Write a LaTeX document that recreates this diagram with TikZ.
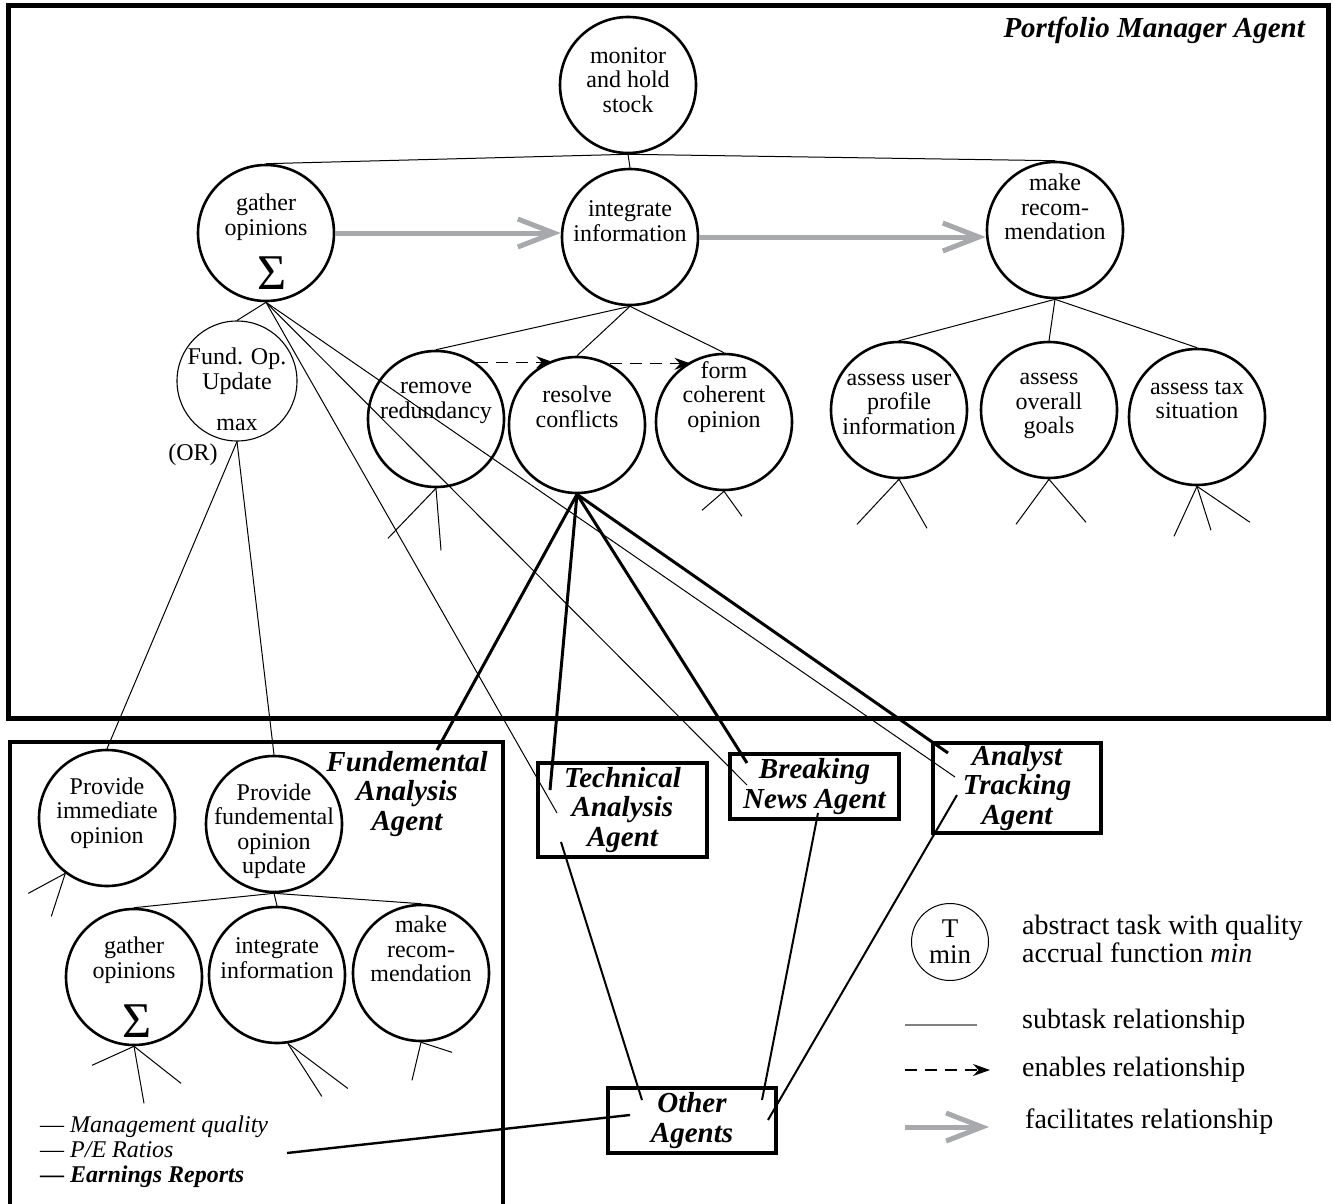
\documentclass[tikz,border=0pt]{standalone}
\usepackage{fontspec}
\setmainfont{Liberation Serif}
\usetikzlibrary{arrows.meta}
\definecolor{fgray}{RGB}{167,169,172}
\begin{document}
\begin{tikzpicture}[x=1pt,y=-1pt,
  task/.style={circle, draw, line width=2.6pt, minimum size=136pt, inner sep=0pt},
  thintask/.style={circle, draw, line width=1.1pt, minimum size=120pt, inner sep=0pt},
  lbl/.style={align=center, inner sep=0pt, font=\fontsize{24}{24.5}\selectfont},
  sig/.style={inner sep=0pt, font=\fontsize{50}{50}\selectfont},
  agent/.style={draw, line width=4pt, inner sep=0pt, align=center, font=\fontsize{29}{29.5}\selectfont\bfseries\itshape},
  title/.style={inner sep=0pt, align=center, font=\fontsize{29}{29.5}\selectfont\bfseries\itshape},
  legtxt/.style={inner sep=0pt, align=left, anchor=west, font=\fontsize{28}{28}\selectfont},
  sub/.style={line width=1pt},
  link/.style={line width=3pt},
  enab/.style={line width=1.2pt, dash pattern=on 12pt off 8pt, -{Stealth[length=17pt,width=12pt]}},
  facil/.style={line width=5pt, draw=fgray, -{Straight Barb[length=36pt,width=28pt]}}
]
\useasboundingbox (0,0) rectangle (1333,1204);
% frames
\draw[line width=5pt] (8,6) rectangle (1328,718);
\draw[line width=4.5pt] (10,1206) -- (10,742) -- (503,742) -- (503,1206);
\node[title, anchor=east] (pmlab) at (1305,30) {Portfolio Manager Agent};

% Portfolio manager tasks
\node[task] (mon) at (628,85) {};
\node[lbl] (monT) at (628,80) {monitor\\and hold\\stock};
\node[task] (g) at (266,233) {};
\node[lbl] (gT) at (266,217) {gather\\opinions};
\node[sig] (gS) at (272,273) {Σ};
\node[task] (i) at (630,237) {};
\node[lbl] (iT) at (630,221) {integrate\\information};
\node[task] (m) at (1055,230) {};
\node[lbl] (mT) at (1055,207) {make\\recom-\\mendation};
\node[thintask] (fo) at (237,381) {};
\node[lbl] (foT) at (237,371) {Fund. Op.\\Update};
\node[lbl] (foM) at (237,425) {max};
\node[lbl] (foOR) at (193,455) {(OR)};
\node[task] (rr) at (436,419) {};
\node[lbl] (rrT) at (436,403) {remove\\redundancy};
\node[task] (rc) at (577,425) {};
\node[lbl] (rcT) at (577,407) {resolve\\conflicts};
\node[task] (fc) at (724,422) {};
\node[lbl] (fcT) at (724,397) {form\\coherent\\opinion};
\node[task] (au) at (899,410) {};
\node[lbl] (auT) at (899,404) {assess user\\profile\\information};
\node[task] (ao) at (1049,410) {};
\node[lbl] (aoT) at (1049,406) {assess\\overall\\goals};
\node[task] (at) at (1197,417) {};
\node[lbl] (atT) at (1197,400) {assess tax\\situation};

% Fundemental analysis agent tasks
\node[title] (falab) at (407,794) {Fundemental\\Analysis\\Agent};
\node[task] (pi) at (107,818) {};
\node[lbl] (piT) at (107,813) {Provide\\immediate\\opinion};
\node[task] (pf) at (274,824) {};
\node[lbl] (pfT) at (274,831) {Provide\\fundemental\\opinion\\update};
\node[task] (g2) at (134,977) {};
\node[lbl] (g2T) at (134,960) {gather\\opinions};
\node[sig] (g2S) at (137,1021) {Σ};
\node[task] (i2) at (277,975) {};
\node[lbl] (i2T) at (277,958) {integrate\\information};
\node[task] (m2) at (421,973) {};
\node[lbl] (m2T) at (421,949) {make\\recom-\\mendation};
\node[inner sep=0pt, align=left, anchor=west, font=\fontsize{24}{25}\selectfont] (list) at (40,1152)
  {— \textit{Management quality}\\— \textit{P/E Ratios}\\\textbf{— \textit{Earnings Reports}}};

% agent boxes
\node[agent, minimum width=169pt, minimum height=94pt] (tech) at (622.5,810) {Technical\\Analysis\\Agent};
\node[agent, minimum width=169pt, minimum height=65pt] (brk) at (814.5,786.5) {Breaking\\News Agent};
\node[agent, minimum width=168pt, minimum height=90pt] (ana) at (1017,788) {Analyst\\Tracking\\Agent};
\node[agent, minimum width=168pt, minimum height=65pt] (oth) at (692,1120.5) {Other\\Agents};

% connector end points inside boxes
\coordinate (faE) at (437,750);
\coordinate (techK) at (550,790);
\coordinate (techN) at (557,813);
\coordinate (techO) at (561,842);
\coordinate (brkK) at (747,763);
\coordinate (brkN) at (747,785);
\coordinate (brkO) at (818,813);
\coordinate (anaK) at (948,753);
\coordinate (anaN) at (955,777);
\coordinate (anaO) at (957,795);
\coordinate (othT) at (642,1100);
\coordinate (othB) at (762,1100);
\coordinate (othA) at (768,1120);
\coordinate (othL) at (630,1115);
\coordinate (listE) at (287,1153);

% subtask relationships
\draw[sub] (mon.south) -- (g.north);
\draw[sub] (mon.south) -- (i.north);
\draw[sub] (mon.south) -- (m.north);
\draw[sub] (i.south) -- (rr.north);
\draw[sub] (i.south) -- (rc.north);
\draw[sub] (i.south) -- (fc.north);
\draw[sub] (m.south) -- (au.north);
\draw[sub] (m.south) -- (ao.north);
\draw[sub] (m.south) -- (at.north);
\draw[sub] (g.south) -- (fo.north);
\draw[sub] (g.south) -- (techN);
\draw[sub] (g.south) -- (brkN);
\draw[sub] (g.south) -- (anaN);
\draw[sub] (fo.south) -- (pi.north);
\draw[sub] (fo.south) -- (pf.north);
\draw[sub] (pf.south) -- (g2.north);
\draw[sub] (pf.south) -- (i2.north);
\draw[sub] (pf.south) -- (m2.north);
% stubs
\draw[sub] (rr.south) -- ++(-48,50);
\draw[sub] (rr.south) -- ++(5,62);
\draw[sub] (fc.south) -- ++(-22,19);
\draw[sub] (fc.south) -- ++(18,25);
\draw[sub] (au.south) -- ++(-42,45);
\draw[sub] (au.south) -- ++(28,49);
\draw[sub] (ao.south) -- ++(-33,45);
\draw[sub] (ao.south) -- ++(37,43);
\draw[sub] (at.south) -- ++(-23,50);
\draw[sub] (at.south) -- ++(14,44);
\draw[sub] (at.south) -- ++(53,36);
\draw[sub] (pi.-127) -- ++(-37,20);
\draw[sub] (pi.-127) -- ++(-14,43);
\draw[sub] (g2.south) -- ++(-42,19);
\draw[sub] (g2.south) -- ++(10,57);
\draw[sub] (g2.south) -- ++(47,37);
\draw[sub] (i2.-81) -- ++(34,53);
\draw[sub] (i2.-81) -- ++(60,45);
\draw[sub] (m2.south) -- ++(-9,38);
\draw[sub] (m2.south) -- ++(31,10);

% thick links
\draw[link] (rc.south) -- (faE);
\draw[link] (rc.south) -- (techK);
\draw[link] (rc.south) -- (brkK);
\draw[link] (rc.south) -- (anaK);
\draw[line width=2pt] (techO) -- (othT);
\draw[line width=2pt] (brkO) -- (othB);
\draw[line width=2pt] (anaO) -- (othA);
\draw[line width=2.4pt] (listE) -- (othL);

% enables
\draw[enab] (rr.55) -- (rr.55 -| rc.110);
\draw[enab] (rc.62) -- (rc.62 -| fc.118);
% facilitates
\draw[facil] (g.east) -- (g.east -| i.west);
\draw[facil] (i.east) -- (i.east -| m.west);

% legend
\node[circle, draw, line width=1pt, minimum size=77pt, inner sep=0pt, align=center, font=\fontsize{27}{26}\selectfont] (leg) at (950,942) {T\\min};
\node[legtxt] (legA) at (1022,939) {abstract task with quality\\accrual function \textit{min}};
\coordinate (ls1) at (905,1025);
\coordinate (ls2) at (977,1025);
\draw[line width=1.2pt, draw=gray] (ls1) -- (ls2);
\node[legtxt] (legS) at (1022,1022) {subtask relationship};
\coordinate (le1) at (905,1070);
\coordinate (le2) at (990,1070);
\draw[enab] (le1) -- (le2);
\node[legtxt] (legE) at (1022,1070) {enables relationship};
\coordinate (lf1) at (905,1127);
\coordinate (lf2) at (989,1127);
\draw[facil] (lf1) -- (lf2);
\node[legtxt] (legF) at (1025,1122) {facilitates relationship};
\end{tikzpicture}
\end{document}
